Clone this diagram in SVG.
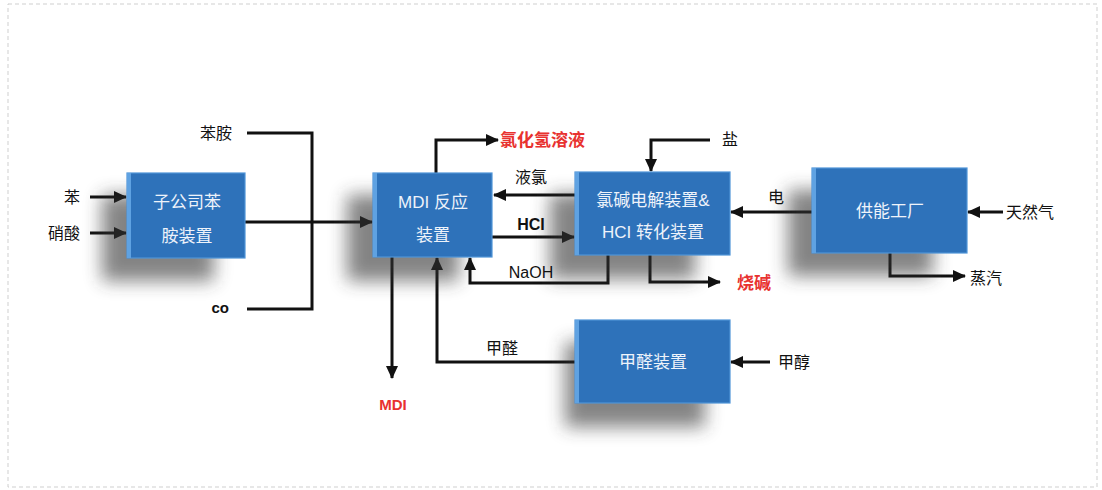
<svg xmlns="http://www.w3.org/2000/svg" width="1102" height="490" viewBox="0 0 1102 490">
<defs>
  <filter id="sh" x="-50%" y="-50%" width="200%" height="200%">
    <feGaussianBlur stdDeviation="9"/>
  </filter>
  <marker id="ah" markerUnits="userSpaceOnUse" markerWidth="13" markerHeight="13" refX="12" refY="6.5" orient="auto">
    <path d="M0,0.5 L13,6.5 L0,12.5 z" fill="#111"/>
  </marker>
  <style>
    .box{fill:#2E72BA;stroke:#4F94D8;stroke-width:1.2}
    .edge{fill:#5FA2E2}
    .shadow{fill:#333;opacity:0.6;filter:url(#sh)}
    .bt{font-family:"Liberation Sans","Noto Sans CJK SC",sans-serif;font-size:17px;fill:#EEF3FA;text-anchor:middle;dominant-baseline:central}
    .lb{font-family:"Liberation Sans","Noto Sans CJK SC",sans-serif;font-size:16px;fill:#111;dominant-baseline:central}
    .red{font-family:"Liberation Sans","Noto Sans CJK SC",sans-serif;font-size:17px;font-weight:bold;fill:#E8322F;dominant-baseline:central}
    .ln{fill:none;stroke:#111;stroke-width:3}
    .arr{marker-end:url(#ah)}
    .c{text-anchor:middle}
    .e{text-anchor:end}
  </style>
</defs>
<rect x="8" y="4" width="1089" height="483" fill="none" stroke="#cfcfcf" stroke-width="1" stroke-dasharray="4 3"/>

<g id="connectors">
  <path class="ln arr" d="M90,197 H126"/>
  <path class="ln arr" d="M90,233 H126"/>
  <path class="ln" d="M247,133 H312 V309 H247"/>
  <path class="ln arr" d="M245,222 H372"/>
  <path class="ln arr" d="M436,173 V140 H498"/>
  <path class="ln arr" d="M710,140 H651 V171"/>
  <path class="ln arr" d="M575,195 H494"/>
  <path class="ln arr" d="M492,237 H574"/>
  <path class="ln arr" d="M608,255 V283 H470 V258"/>
  <path class="ln arr" d="M650,255 V282 H720"/>
  <path class="ln arr" d="M392,257 V378"/>
  <path class="ln arr" d="M575,362 H437 V258"/>
  <path class="ln arr" d="M770,362 H731"/>
  <path class="ln arr" d="M812,212 H731"/>
  <path class="ln arr" d="M1003,212 H968"/>
  <path class="ln arr" d="M890,253 V276 H965"/>
</g>

<g id="node-aniline">
  <rect class="shadow" x="102" y="195" width="112" height="86"/>
  <rect class="box" x="127" y="173" width="118" height="85"/>
  <rect class="edge" x="127" y="173" width="4" height="85"/>
  <text class="bt" x="187" y="202">子公司苯</text>
  <text class="bt" x="187" y="236">胺装置</text>
</g>

<g id="node-mdi">
  <rect class="shadow" x="347" y="195" width="112" height="86"/>
  <rect class="box" x="373" y="173" width="119" height="84"/>
  <rect class="edge" x="373" y="173" width="4" height="84"/>
  <text class="bt" x="433" y="202">MDI 反应</text>
  <text class="bt" x="433" y="235">装置</text>
</g>

<g id="node-chloralkali">
  <rect class="shadow" x="550" y="194" width="145" height="85"/>
  <rect class="box" x="575" y="172" width="155" height="83"/>
  <rect class="edge" x="575" y="172" width="4" height="83"/>
  <text class="bt" x="653" y="200">氯碱电解装置&amp;</text>
  <text class="bt" x="653" y="232">HCI 转化装置</text>
</g>

<g id="node-power">
  <rect class="shadow" x="788" y="190" width="145" height="86"/>
  <rect class="box" x="812" y="168" width="155" height="85"/>
  <rect class="edge" x="812" y="168" width="4" height="85"/>
  <text class="bt" x="890" y="211">供能工厂</text>
</g>

<g id="node-formaldehyde">
  <rect class="shadow" x="565" y="342" width="140" height="85"/>
  <rect class="box" x="575" y="320" width="155" height="83"/>
  <rect class="edge" x="575" y="320" width="4" height="83"/>
  <text class="bt" x="653" y="362">甲醛装置</text>
</g>

<g id="labels">
  <text class="lb e" x="80" y="197">苯</text>
  <text class="lb e" x="80" y="233">硝酸</text>
  <text class="lb e" x="232" y="133">苯胺</text>
  <text class="lb e" x="229" y="307" style="font-weight:bold;font-size:15px">co</text>
  <text class="red" x="500" y="140">氯化氢溶液</text>
  <text class="lb" x="722" y="139">盐</text>
  <text class="lb c" x="531" y="177">液氯</text>
  <text class="lb c" x="531" y="224" style="font-weight:bold">HCI</text>
  <text class="lb c" x="531" y="272">NaOH</text>
  <text class="red" x="737" y="283">烧碱</text>
  <text class="red c" x="393" y="404" style="font-size:15px">MDI</text>
  <text class="lb c" x="502" y="348">甲醛</text>
  <text class="lb" x="778" y="362">甲醇</text>
  <text class="lb c" x="776" y="197">电</text>
  <text class="lb" x="1006" y="212">天然气</text>
  <text class="lb" x="970" y="278">蒸汽</text>
</g>
</svg>
